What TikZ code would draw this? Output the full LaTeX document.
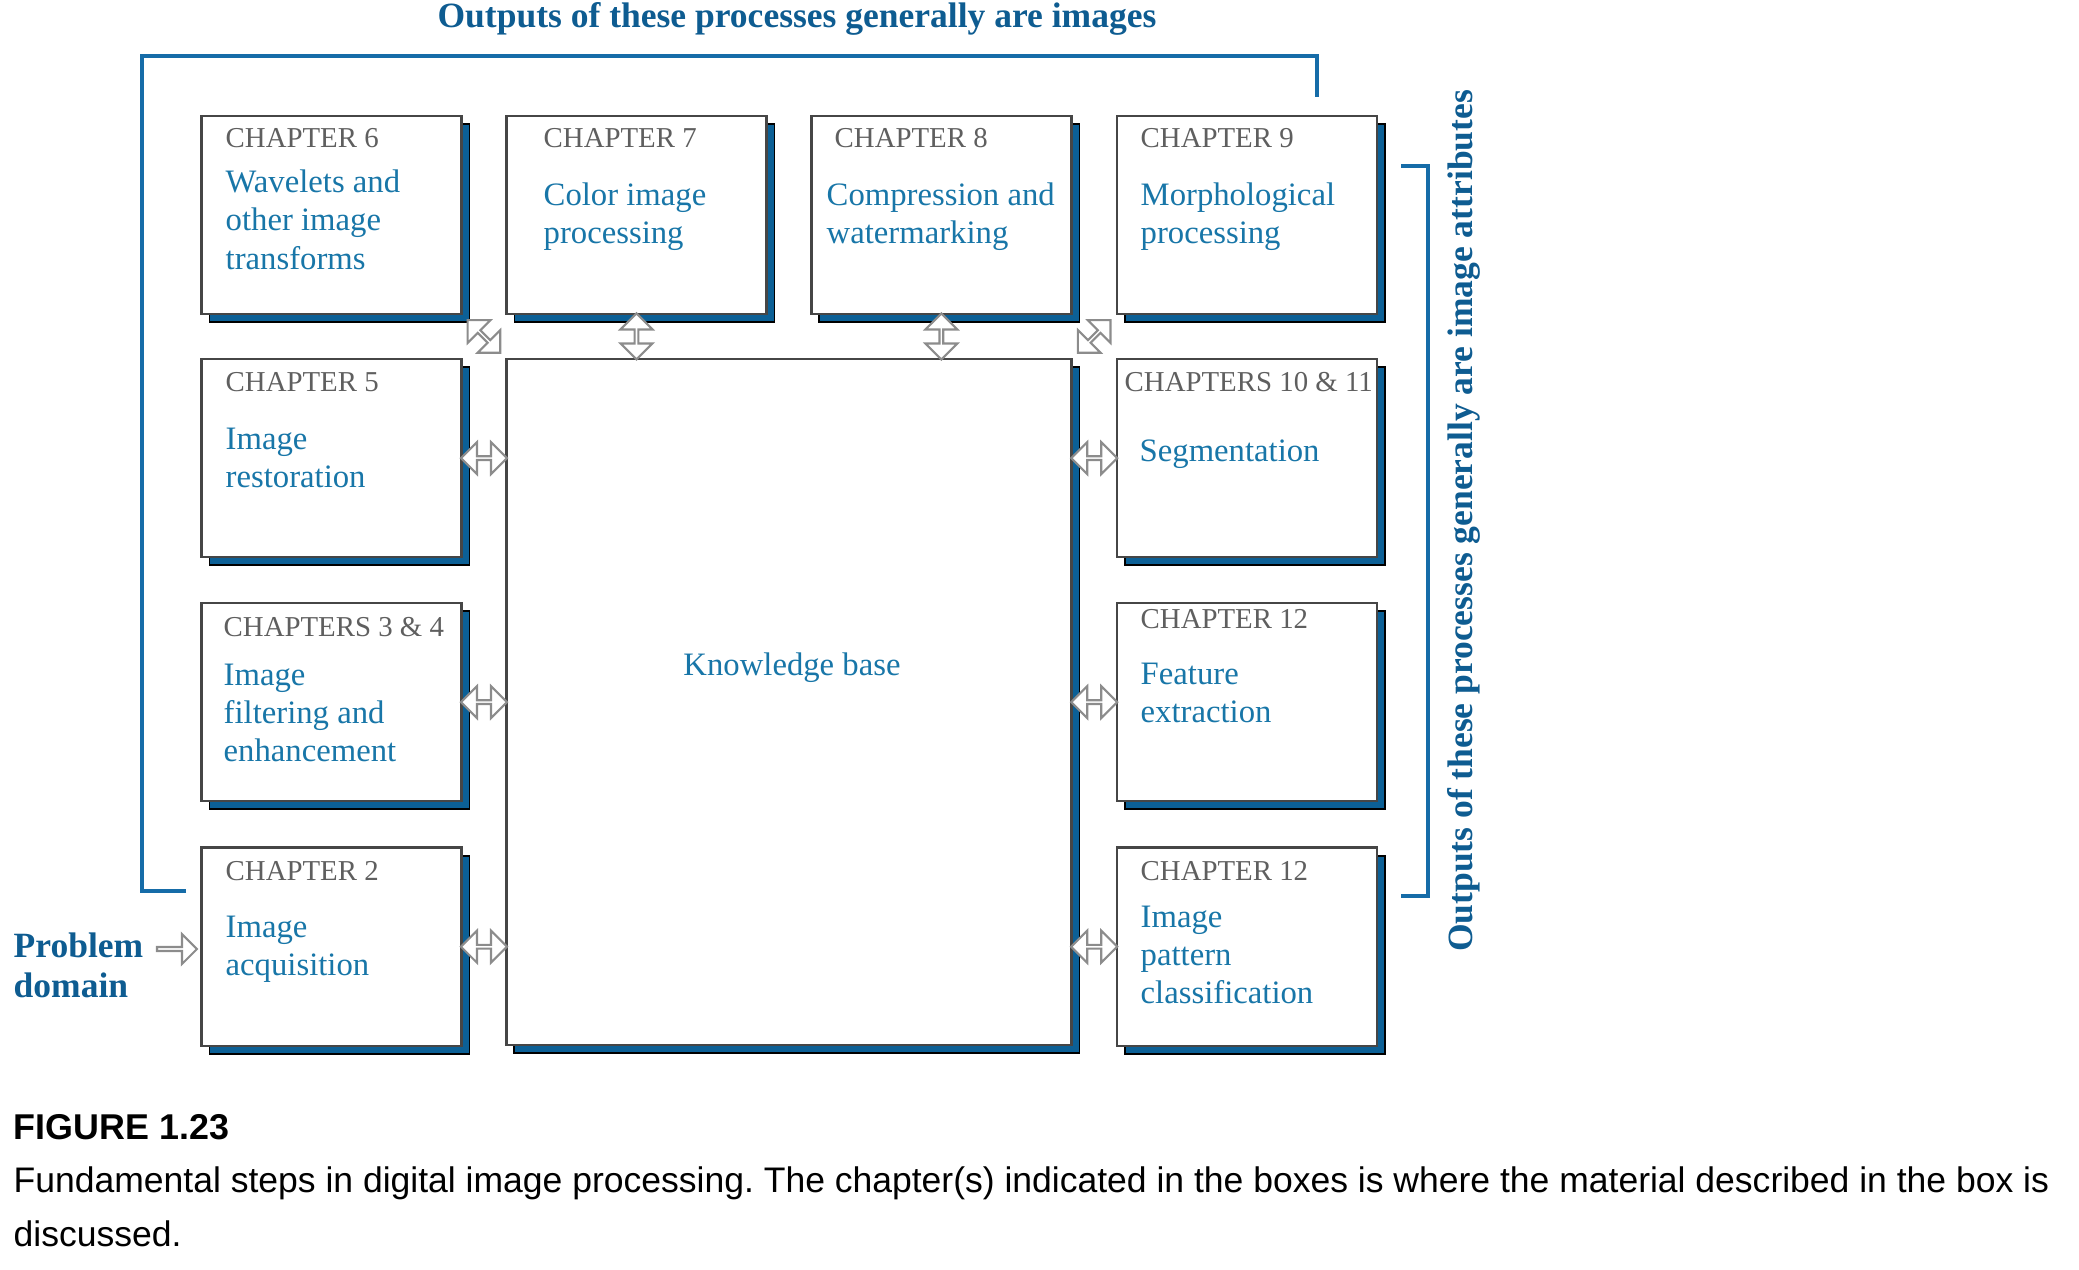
\documentclass[tikz,border=0pt]{standalone}
\usepackage{fontspec}
\setmainfont{Liberation Serif}
\newfontfamily\capfont{Liberation Sans}
\usetikzlibrary{shapes.arrows,shadows,calc,positioning}
\definecolor{txtblue}{RGB}{24,118,168}
\definecolor{ttlblue}{RGB}{14,92,145}
\definecolor{lnblue}{RGB}{22,108,168}
\definecolor{shdblue}{RGB}{12,96,150}
\definecolor{chgray}{RGB}{95,95,95}
\definecolor{boxgray}{RGB}{70,70,70}
\definecolor{arrgray}{RGB}{140,140,140}
\tikzset{
  stepbox/.style={draw=boxgray,line width=0.7pt,fill=white,inner sep=0pt,
    minimum width=2.6cm,minimum height=1.98cm,
    drop shadow={shadow xshift=0.08cm,shadow yshift=-0.08cm,fill=shdblue,draw=black,line width=0.5pt,opacity=1}},
  chap/.style={anchor=west,inner sep=0pt,text=chgray,font=\fontsize{8.2}{10}\selectfont},
  task/.style={anchor=north west,inner sep=0pt,align=left,text=txtblue,font=\fontsize{9.3}{10.9}\selectfont},
  dbl/.style={double arrow,draw=arrgray,fill=white,line width=0.6pt,inner sep=0pt,
    minimum height=0.46cm,minimum width=0.32cm,double arrow head extend=0.08cm},
  ttl/.style={inner sep=0pt,text=ttlblue,font=\fontsize{10.1}{11.3}\selectfont\bfseries},
  bracket/.style={draw=lnblue,line width=1.1pt}
}
\frenchspacing

\begin{document}
\begin{tikzpicture}[x=0.01cm,y=-0.01cm]
\useasboundingbox (0,0) rectangle (2079,1270);
% outputs brackets
\draw[bracket] (186,891) -- (142,891) -- (142,56) -- (1317,56) -- (1317,97);
\draw[bracket] (1401,166) -- (1428,166) -- (1428,896) -- (1401,896);
\node[ttl,anchor=base] (toptitle) at (797,28) {Outputs of these processes generally are images};
\node[ttl,anchor=base,rotate=90] (sidetitle) at (1472,521) {Outputs of these processes generally are image attributes};

% knowledge base
\node[stepbox,minimum width=5.648cm,minimum height=6.855cm] (kb) at (788.9,702) {};
\node[inner sep=0pt,text=txtblue,font=\fontsize{9.3}{11}\selectfont] (kbtext) at (792,668) {Knowledge base};

% top row
\node[stepbox] (b6) at (331.5,214.8) {};
\node[stepbox] (b7) at (636.5,214.8) {};
\node[stepbox] (b8) at (941.4,214.8) {};
\node[stepbox] (b9) at (1247,214.8) {};
\node[chap] (c6) at (225,138) {CHAPTER 6};
\node[task] (t6) at (225,169) {Wavelets and\\other image\\transforms};
\node[chap] (c7) at (543,138) {CHAPTER 7};
\node[task] (t7) at (543,182) {Color image\\processing};
\node[chap] (c8) at (834,138) {CHAPTER 8};
\node[task] (t8) at (826,182) {Compression and\\watermarking};
\node[chap] (c9) at (1140,138) {CHAPTER 9};
\node[task] (t9) at (1140,182) {Morphological\\processing};

% left column
\node[stepbox] (b5) at (331.5,458.1) {};
\node[stepbox] (b34) at (331.5,702.1) {};
\node[stepbox] (b2) at (331.5,946.7) {};
\node[chap] (c5) at (225,382) {CHAPTER 5};
\node[task] (t5) at (225,427) {Image\\restoration};
\node[chap] (c34) at (223,627) {CHAPTERS 3 \& 4};
\node[task] (t34) at (223,663) {Image\\filtering and\\enhancement};
\node[chap] (c2) at (225,871) {CHAPTER 2};
\node[task] (t2) at (225,915) {Image\\acquisition};

% right column
\node[stepbox] (b1011) at (1247,458.1) {};
\node[stepbox] (b12a) at (1247,702.1) {};
\node[stepbox] (b12b) at (1247,946.7) {};
\node[chap] (c1011) at (1124,382) {CHAPTERS 10 \& 11};
\node[task] (t1011) at (1139,439) {Segmentation};
\node[chap] (c12a) at (1140,619) {CHAPTER 12};
\node[task] (t12a) at (1140,662) {Feature\\extraction};
\node[chap] (c12b) at (1140,871) {CHAPTER 12};
\node[task] (t12b) at (1140,905) {Image\\pattern\\classification};

% problem domain
\node[ttl,anchor=north west,align=left] (prob) at (13,932) {Problem\\domain};
\node[single arrow,draw=arrgray,fill=white,line width=0.6pt,inner sep=0pt,
  minimum height=0.4cm,minimum width=0.3cm,single arrow head extend=0.07cm] (pa) at (176,949) {};

% links to the knowledge base
\foreach \b in {b5,b34,b2}
  \node[dbl] (a\b) at ($(\b.east)!0.5!(\b.east -| kb.west)$) {};
\foreach \b in {b1011,b12a,b12b}
  \node[dbl] (a\b) at ($(\b.west)!0.5!(\b.west -| kb.east)$) {};
\foreach \b in {b7,b8}
  \node[dbl,rotate=90] (a\b) at ($(\b.south)!0.5!(\b.south |- kb.north)$) {};
\node[dbl,rotate=-45] (ab6) at ($(b6.south east)!0.5!(kb.north west)$) {};
\node[dbl,rotate=45] (ab9) at ($(b9.south west)!0.5!(kb.north east)$) {};

% caption
\node[anchor=base west,inner sep=0pt,font=\capfont\bfseries\fontsize{10.2}{12}\selectfont] (fig) at (13,1139) {FIGURE 1.23};
\node[anchor=base west,inner sep=0pt,font=\capfont\fontsize{10.1}{12}\selectfont] (cap1) at (13,1192) {Fundamental steps in digital image processing. The chapter(s) indicated in the boxes is where the material described in the box is};
\node[anchor=base west,inner sep=0pt,font=\capfont\fontsize{10.1}{12}\selectfont] (cap2) at (13,1246) {discussed.};
\end{tikzpicture}
\end{document}
